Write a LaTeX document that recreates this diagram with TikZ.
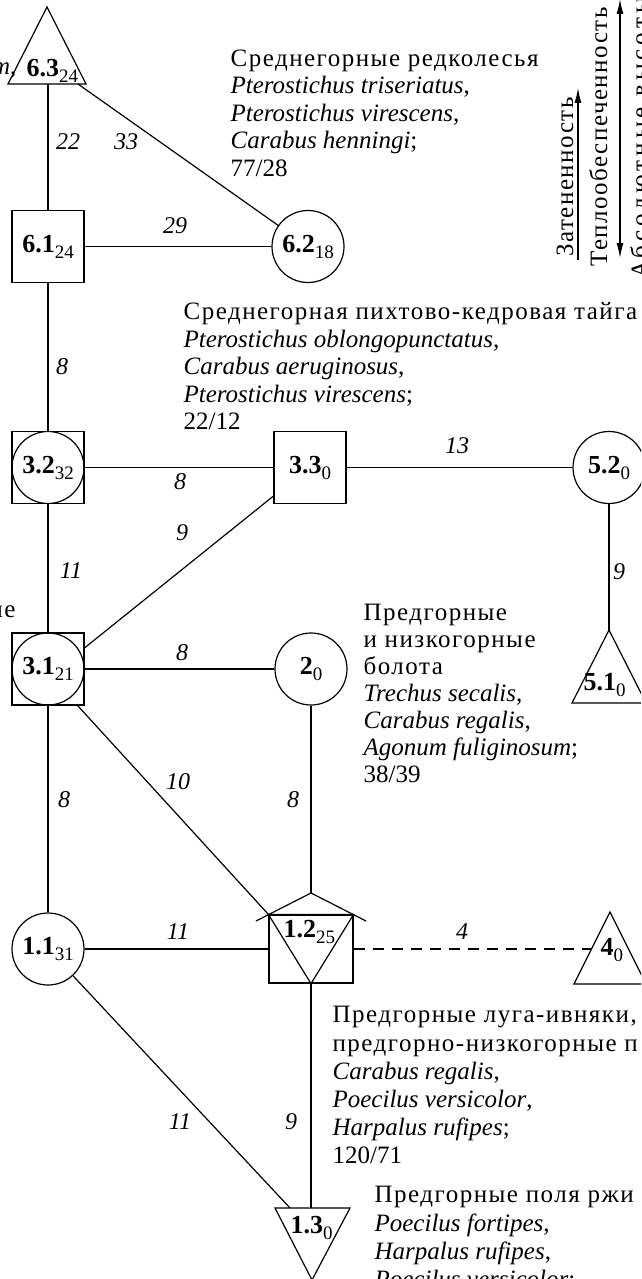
\documentclass[tikz,border=0pt]{standalone}
\usepackage{fontspec}
\setmainfont{Liberation Serif}
\newfontfamily\rusfont[LetterSpace=6]{Liberation Serif}
\newfontfamily\widefont[LetterSpace=16]{Liberation Serif}
\usetikzlibrary{arrows.meta,calc}
% bold site number with its lowered count
\newcommand\nlab[2]{\textbf{#1}\raisebox{-6pt}{\fontsize{19}{19}\selectfont #2}}

\begin{document}
\begin{tikzpicture}[x=1pt,y=-1pt,line width=1.2pt,
  sq/.style={draw,rectangle,minimum size=72pt,inner sep=0pt,font=\fontsize{26}{26}\selectfont},
  circ/.style={draw,circle,minimum size=72pt,inner sep=0pt,font=\fontsize{26}{26}\selectfont},
  sqcirc/.style={sq,path picture={\draw[line width=1.2pt] (path picture bounding box.center) circle (36pt);}},
  tri/.style={draw,line join=miter},
  lbl/.style={font=\fontsize{26}{26}\selectfont,inner sep=0pt,anchor=base west},
  wt/.style={font=\fontsize{24}{24}\selectfont\itshape,inner sep=0pt},
  blk/.style={anchor=north west,align=left,inner sep=0pt},
  vtxt/.style={rotate=90,anchor=base,inner sep=0pt},
  tip/.style={-{Latex[length=15pt,width=7pt]}},
  dtip/.style={{Latex[length=15pt,width=7pt]}-{Latex[length=15pt,width=7pt]}},
]
\path[use as bounding box] (0,0) rectangle (641,1279);
\clip (0,0) rectangle (641,1279);

% ---- site symbols ----
% 6.3 triangle
\draw[tri] (47,7) coordinate (t63a) -- (86,84) -- (8,84) -- cycle;
\coordinate (t63b) at (48,84);
\coordinate (t63c) at (78,84);
\node[lbl] (n63) at (26,77) {\nlab{6.3}{24}};

\node[sq] (n61) at (48,246.5) {\nlab{6.1}{24}};
\node[circ] (n62) at (308,246.5) {\nlab{6.2}{18}};
\node[sqcirc] (n32) at (48,467.5) {\nlab{3.2}{32}};
\node[sq] (n33) at (310,467.5) {\nlab{3.3}{0}};
\node[circ] (n52) at (609,467.5) {\nlab{5.2}{0}};

% 5.1 triangle
\draw[tri] (609,630) coordinate (t51a) -- (646,703) -- (572,703) -- cycle;
\node[lbl] (n51) at (583,690) {\nlab{5.1}{0}};

\node[sqcirc] (n31) at (48,669) {\nlab{3.1}{21}};
\node[circ] (n2) at (311,669) {\nlab{2}{0}};
\node[circ] (n11) at (48,949) {\nlab{1.1}{31}};

% 1.2: square, inverted triangle and roof
\node[draw,rectangle,minimum width=84pt,minimum height=68pt,inner sep=0pt] (n12) at (311,949) {};
\draw[tri] (n12.north west) -- (n12.north east) -- (n12.south) -- cycle;
\coordinate (r12) at (311,893);
\draw (256,921) -- (r12) -- (366,921);
\node[lbl] (n12t) at (283,937) {\nlab{1.2}{25}};

% 4 triangle
\draw[tri] (610,912) -- (646,984) -- (574,984) -- cycle;
\coordinate (t4e) at (591.5,949);
\node[lbl] (n4) at (600,955) {\nlab{4}{0}};

% 1.3 inverted triangle
\draw[tri] (275,1208) -- (350,1208) -- (312,1280) -- cycle;
\coordinate (t13t) at (311,1208);
\coordinate (t13l) at (290,1208);
\node[lbl] (n13) at (290,1233) {\nlab{1.3}{0}};

% ---- links ----
\draw (t63b) -- (n61);
\draw (t63c) -- (n62);
\draw (n61) -- (n62);
\draw (n61) -- (n32);
\draw (n32) -- (n33);
\draw (n33) -- (n52);
\draw (n52) -- (t51a);
\draw (n32) -- (n31);
\draw (n31.30) -- (n33.218);
\draw (n31) -- (n2);
\draw (n31.-51) -- (n12.north west);
\draw (n31) -- (n11);
\draw (n2) -- (r12);
\draw (n11) -- (n12);
\draw[dash pattern=on 11pt off 8pt] (n12) -- (t4e);
\draw (n12) -- (t13t);
\draw (n11) -- (t13l);

% ---- link weights ----
\node[wt] (w1) at (68,142) {22};
\node[wt] (w2) at (126,142) {33};
\node[wt] (w3) at (175,226) {29};
\node[wt] (w4) at (62,367) {8};
\node[wt] (w5) at (180,482) {8};
\node[wt] (w6) at (457,446) {13};
\node[wt] (w7) at (619,572) {9};
\node[wt] (w8) at (71,571) {11};
\node[wt] (w9) at (182,533) {9};
\node[wt] (w10) at (182,653) {8};
\node[wt] (w11) at (178,782) {10};
\node[wt] (w12) at (64,800) {8};
\node[wt] (w13) at (293,800) {8};
\node[wt] (w14) at (178,932) {11};
\node[wt] (w15) at (462,932) {4};
\node[wt] (w16) at (180,1122) {11};
\node[wt] (w17) at (291,1122) {9};

% ---- community descriptions ----
\node[blk,font=\fontsize{25}{27.5}\selectfont] (d1) at (230,49)
  {{\rusfont Среднегорные редколесья}\\
   \textit{Pterostichus triseriatus},\\
   \textit{Pterostichus virescens},\\
   \textit{Carabus henningi};\\
   77/28};
\node[blk,font=\fontsize{25}{27.5}\selectfont] (d2) at (183,302)
  {{\rusfont Среднегорная пихтово-кедровая тайга}\\
   \textit{Pterostichus oblongopunctatus},\\
   \textit{Carabus aeruginosus},\\
   \textit{Pterostichus virescens};\\
   22/12};
\node[blk,font=\fontsize{25}{27}\selectfont] (d3) at (363,604)
  {{\rusfont Предгорные}\\
   {\rusfont и низкогорные}\\
   {\rusfont болота}\\
   \textit{Trechus secalis},\\
   \textit{Carabus regalis},\\
   \textit{Agonum fuliginosum};\\
   38/39};
\node[blk,font=\fontsize{25}{28.2}\selectfont] (d4) at (332,1006)
  {{\rusfont Предгорные луга-ивняки,}\\
   {\rusfont предгорно-низкогорные п}\\
   \textit{Carabus regalis},\\
   \textit{Poecilus versicolor},\\
   \textit{Harpalus rufipes};\\
   120/71};
\node[blk,font=\fontsize{25}{28.2}\selectfont] (d5) at (374,1186)
  {{\rusfont Предгорные поля ржи}\\
   \textit{Poecilus fortipes},\\
   \textit{Harpalus rufipes},\\
   \textit{Poecilus versicolor};};

% text running in from the left edge
\node[font=\fontsize{25}{25}\selectfont,inner sep=0pt,anchor=base east] (c1) at (17,75) {\textit{m},};
\node[font=\fontsize{25}{25}\selectfont\rusfont,inner sep=0pt,anchor=base east] (c2) at (16,617) {ные};

% ---- gradient axes ----
\coordinate (z1) at (578,260);
\coordinate (z2) at (578,88);
\draw[tip] (z1) -- (z2);
\node[vtxt,font=\fontsize{25}{25}\selectfont\rusfont] (zt) at (573,177) {Затененность};
\coordinate (h1) at (620,258);
\coordinate (h2) at (620,-1);
\draw[dtip] (h1) -- (h2);
\node[vtxt,font=\fontsize{25}{25}\selectfont\rusfont] (ht) at (607,137) {Теплообеспеченность};
\node[vtxt,font=\fontsize{25}{25}\selectfont\widefont] (at) at (648,138) {Абсолютные высоты};
\end{tikzpicture}
\end{document}
